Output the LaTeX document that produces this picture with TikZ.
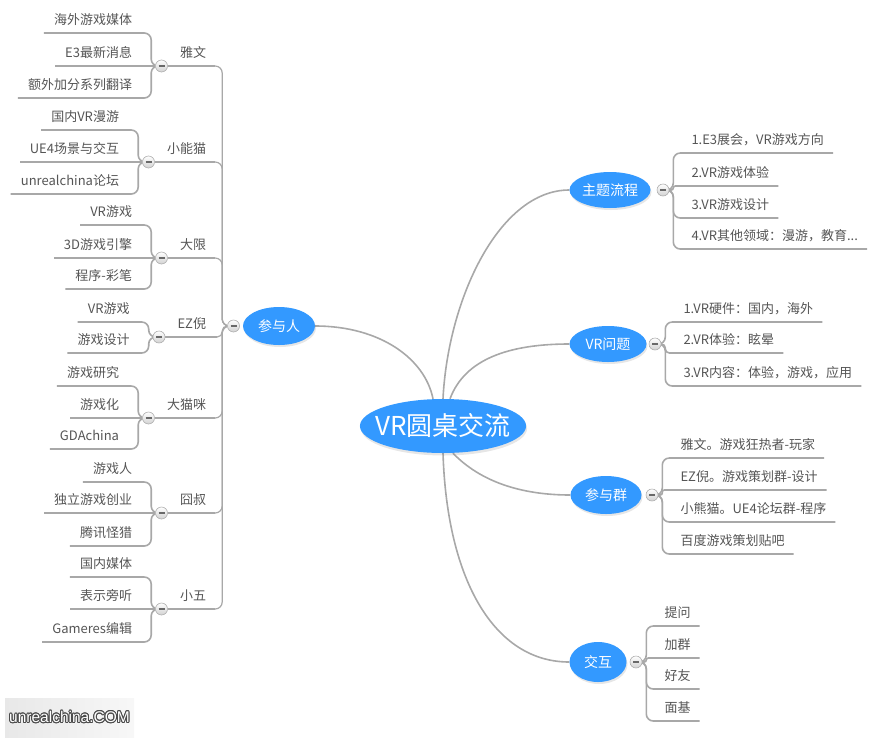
\documentclass[tikz,border=0pt]{standalone}
\usepackage{fontspec}
\setmainfont{Noto Sans CJK SC}
\newfontfamily\markfont{Liberation Sans}
\usepackage{contour}
\usetikzlibrary{positioning,shapes.geometric,shadows,backgrounds}
\definecolor{mindblue}{RGB}{51,153,255}
\definecolor{linegray}{RGB}{168,168,168}
\definecolor{txtgray}{RGB}{85,85,85}
\definecolor{dotedge}{RGB}{175,175,175}
\definecolor{dotminus}{RGB}{105,105,105}
\contourlength{0.9pt}

\begin{document}
\begin{tikzpicture}[
    x=1pt, y=-1pt,
    root/.style={ellipse,fill=mindblue,text=white,inner xsep=-9pt,inner ysep=0pt,
      minimum width=162pt,minimum height=54pt,font=\fontsize{26pt}{30pt}\selectfont,
      drop shadow={opacity=0.2,shadow xshift=1pt,shadow yshift=-2.5pt}},
    topic/.style={ellipse,fill=mindblue,text=white,inner sep=0pt,
      minimum height=38pt,font=\fontsize{14pt}{16pt}\selectfont,
      drop shadow={opacity=0.2,shadow xshift=1pt,shadow yshift=-2pt}},
    dot/.style={circle,draw=dotedge,line width=0.6pt,top color=white,bottom color=black!18,
      minimum size=12pt,inner sep=0pt,
      path picture={\draw[dotminus,line width=1.8pt]
        ([xshift=-3pt]path picture bounding box.center) -- ([xshift=3pt]path picture bounding box.center);}},
    itemR/.style={anchor=south west,inner sep=0pt,text depth=8pt,text=txtgray,
      font=\fontsize{13pt}{15pt}\selectfont,xshift=4pt,
      execute at begin node={\hspace*{18pt}},execute at end node={\hspace*{9pt}}},
    itemL/.style={anchor=south east,inner sep=0pt,text depth=8pt,text=txtgray,
      font=\fontsize{13pt}{15pt}\selectfont,xshift=-4pt,
      execute at begin node={\hspace*{10pt}},execute at end node={\hspace*{19pt}}},
    member/.style={anchor=south east,inner sep=0pt,text depth=8pt,text=txtgray,
      font=\fontsize{13pt}{15pt}\selectfont,xshift=-5pt,
      execute at begin node={\hspace*{12pt}},execute at end node={\hspace*{16pt}}},
    wmark/.style={rectangle,minimum width=129pt,minimum height=39pt,inner sep=0pt,
      left color=black!9,right color=black!3,text=white,
      font=\markfont\fontsize{15.5pt}{17pt}\selectfont},
    link/.style={draw=linegray,line width=1.6pt},
    branch/.style={link,rounded corners=7pt},
    trunk/.style={draw=linegray,line width=1.2pt,rounded corners=7pt}
  ]
    \useasboundingbox (0,0) rectangle (891,742);

    \node[root] (tbl) at (443,426) {VR圆桌交流};

    \node[topic,minimum width=72pt] (cyr) at (279,326) {参与人};
    \node[topic,minimum width=81pt,minimum height=36pt] (ztlc) at (610,190) {主题流程};
    \node[topic,minimum width=77pt,minimum height=36pt] (vrwt) at (608,344) {VR问题};
    \node[topic,minimum width=71pt] (cyq) at (606,495) {参与群};
    \node[topic,minimum width=57pt,minimum height=40pt] (jhu) at (598,662) {交互};

    \node[dot,left=3pt of cyr] (dcyr) {};
    \node[dot,right=6pt of ztlc] (dztlc) {};
    \node[dot,right=2pt of vrwt] (dvrwt) {};
    \node[dot,right=4pt of cyq] (dcyq) {};
    \node[dot,right=3pt of jhu] (djhu) {};

    % right side
    \node[itemR] (zt1) at (dztlc.east |- 0,153) {1.E3展会，VR游戏方向};
    \node[itemR] (zt2) at (dztlc.east |- 0,186) {2.VR游戏体验};
    \node[itemR] (zt3) at (dztlc.east |- 0,218) {3.VR游戏设计};
    \node[itemR] (zt4) at (dztlc.east |- 0,249) {4.VR其他领域：漫游，教育...};

    \node[itemR] (vr1) at (dvrwt.east |- 0,322) {1.VR硬件：国内，海外};
    \node[itemR] (vr2) at (dvrwt.east |- 0,353) {2.VR体验：眩晕};
    \node[itemR] (vr3) at (dvrwt.east |- 0,386) {3.VR内容：体验，游戏，应用};

    \node[itemR] (cq1) at (dcyq.east |- 0,458) {雅文。游戏狂热者-玩家};
    \node[itemR] (cq2) at (dcyq.east |- 0,490) {EZ倪。游戏策划群-设计};
    \node[itemR] (cq3) at (dcyq.east |- 0,522) {小熊猫。UE4论坛群-程序};
    \node[itemR] (cq4) at (dcyq.east |- 0,554) {百度游戏策划贴吧};

    \node[itemR] (jh1) at (djhu.east |- 0,626) {提问};
    \node[itemR] (jh2) at (djhu.east |- 0,658) {加群};
    \node[itemR] (jh3) at (djhu.east |- 0,689) {好友};
    \node[itemR] (jh4) at (djhu.east |- 0,721) {面基};

    % left side
    \node[member] (yw) at (dcyr.west |- 0,66) {雅文};
    \node[member] (xxm) at (dcyr.west |- 0,162) {小能猫};
    \node[member] (dx) at (dcyr.west |- 0,258) {大限};
    \node[member] (ezn) at (dcyr.west |- 0,337) {EZ倪};
    \node[member] (dmm) at (dcyr.west |- 0,418) {大猫咪};
    \node[member] (js) at (dcyr.west |- 0,513) {囧叔};
    \node[member] (xw) at (dcyr.west |- 0,609) {小五};

    \node[dot,anchor=east] (dyw) at (yw.south west) {};
    \node[dot,anchor=east] (dxxm) at (xxm.south west) {};
    \node[dot,anchor=east] (ddx) at (dx.south west) {};
    \node[dot,anchor=east] (dezn) at (ezn.south west) {};
    \node[dot,anchor=east] (ddmm) at (dmm.south west) {};
    \node[dot,anchor=east] (djs) at (js.south west) {};
    \node[dot,anchor=east] (dxw) at (xw.south west) {};

    \node[itemL] (yw1) at (dyw.west |- 0,33) {海外游戏媒体};
    \node[itemL] (yw2) at (dyw.west) {E3最新消息};
    \node[itemL] (yw3) at (dyw.west |- 0,98) {额外加分系列翻译};

    \node[itemL] (xxm1) at (dxxm.west |- 0,130) {国内VR漫游};
    \node[itemL] (xxm2) at (dxxm.west) {UE4场景与交互};
    \node[itemL] (xxm3) at (dxxm.west |- 0,194) {unrealchina论坛};

    \node[itemL] (dx1) at (ddx.west |- 0,225) {VR游戏};
    \node[itemL] (dx2) at (ddx.west) {3D游戏引擎};
    \node[itemL] (dx3) at (ddx.west |- 0,289) {程序-彩笔};

    \node[itemL] (ezn1) at (dezn.west |- 0,322) {VR游戏};
    \node[itemL] (ezn2) at (dezn.west |- 0,353) {游戏设计};

    \node[itemL] (dmm1) at (ddmm.west |- 0,386) {游戏研究};
    \node[itemL] (dmm2) at (ddmm.west) {游戏化};
    \node[itemL] (dmm3) at (ddmm.west |- 0,449) {GDAchina};

    \node[itemL] (js1) at (djs.west |- 0,482) {游戏人};
    \node[itemL] (js2) at (djs.west) {独立游戏创业};
    \node[itemL] (js3) at (djs.west |- 0,546) {腾讯怪猎};

    \node[itemL] (xw1) at (dxw.west |- 0,577) {国内媒体};
    \node[itemL] (xw2) at (dxw.west) {表示旁听};
    \node[itemL] (xw3) at (dxw.west |- 0,642) {Gameres编辑};

    \node[wmark] (wm) at (69.5,717.5) {\contour{black!70}{unrealchina.COM}};

    \begin{scope}[on background layer]
      \draw[link] ([xshift=-10pt]tbl.north) .. controls +(-8,-40) and +(65,0) .. (cyr.east);
      \draw[link] (tbl.north) .. controls +(5,-100) and +(-70,0) .. (ztlc.west);
      \draw[link] ([xshift=7pt]tbl.north) .. controls +(15,-40) and +(-60,0) .. (vrwt.west);
      \draw[link] ([xshift=10pt]tbl.south) .. controls +(27,28) and +(-50,0) .. (cyq.west);
      \draw[link] (tbl.south) .. controls +(4,127) and +(-75,0) .. (jhu.west);

      \foreach \i in {1,3,4} \draw[branch] (dztlc.east) -| (zt\i.south west) -- (zt\i.south east);
      \draw[branch,rounded corners=2pt] (dztlc.east) -| (zt2.south west) -- (zt2.south east);
      \foreach \i in {1,3} \draw[branch] (dvrwt.east) -| (vr\i.south west) -- (vr\i.south east);
      \draw[branch,rounded corners=4pt] (dvrwt.east) -| (vr2.south west) -- (vr2.south east);
      \foreach \i in {1,3,4} \draw[branch] (dcyq.east) -| (cq\i.south west) -- (cq\i.south east);
      \draw[branch,rounded corners=2pt] (dcyq.east) -| (cq2.south west) -- (cq2.south east);
      \foreach \i in {1,3,4} \draw[branch] (djhu.east) -| (jh\i.south west) -- (jh\i.south east);
      \draw[branch,rounded corners=2pt] (djhu.east) -| (jh2.south west) -- (jh2.south east);

      \foreach \m in {yw,xxm,dx,dmm,js,xw} {
        \draw[trunk] (dcyr.west) -| (\m.south east) -- (d\m.east);
        \draw[link] ([xshift=-7pt]\m.south east) -- (d\m.east);
      }
      \draw[trunk,rounded corners=5pt] (dcyr.west) -| (ezn.south east) -- (dezn.east);
      \draw[link] ([xshift=-5pt]ezn.south east) -- (dezn.east);

      \foreach \m in {yw,xxm,dx,dmm,js,xw} {
        \draw[branch] (d\m.west) -| (\m1.south east) -- (\m1.south west);
        \draw[link] (d\m.west) -- (\m2.south west);
        \draw[branch] (d\m.west) -| (\m3.south east) -- (\m3.south west);
      }
      \draw[branch] (dezn.west) -| (ezn1.south east) -- (ezn1.south west);
      \draw[branch] (dezn.west) -| (ezn2.south east) -- (ezn2.south west);
    \end{scope}
\end{tikzpicture}
\end{document}
